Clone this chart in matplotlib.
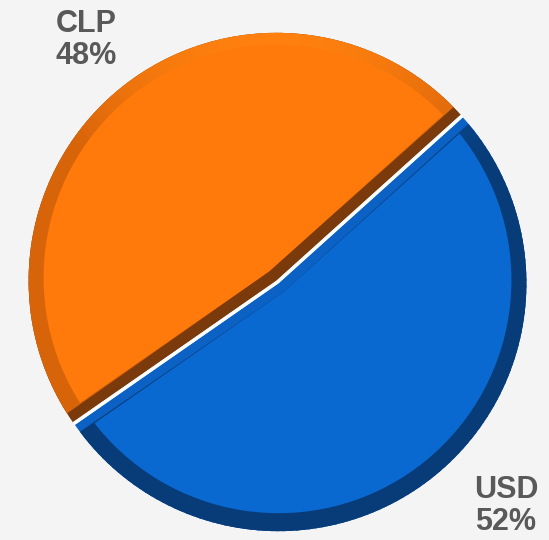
import numpy as np
import matplotlib.pyplot as plt
from matplotlib.patches import Wedge, Circle

# data
labels = ['USD', 'CLP']
values = [52, 48]
face_colors = ['#0a69d0', '#ff7a0a']
rim_dark = ['#083c78', '#d8640a']
rim_light = ['#0a55a8', '#ff800e']
edge_colors = ['#0b61c4', '#7a3a0b']

W, H = 549, 540
cx, cy = 277.5, 540 - 282   # pie centre in pixel coords (y up)
R = 248
rim = 15
start = 42.0   # angle of the split line, degrees

fig = plt.figure(figsize=(W / 100, H / 100), dpi=100)
fig.patch.set_facecolor('#f4f4f4')
ax = fig.add_axes([0, 0, 1, 1])
ax.set_xlim(0, W)
ax.set_ylim(0, H)
ax.set_aspect('equal')
ax.axis('off')


def unit(a):
    return np.array([np.cos(np.radians(a)), np.sin(np.radians(a))])


total = sum(values)
spans = [v / total * 360 for v in values]
# USD runs clockwise from the split line, CLP counter-clockwise
ranges = [(start - spans[0], start), (start, start + spans[1])]
edge_w = [10, 12]

for i in range(len(values)):
    t1, t2 = ranges[i]
    half = (t2 - t1) / 2
    bis = unit((t1 + t2) / 2)
    c = np.array([cx, cy]) + bis * 1.5
    outer = Circle(c, R, facecolor='none', edgecolor='none')
    ax.add_patch(outer)
    # base wedge = bevel along split line
    ax.add_patch(Wedge(c, R, t1, t2, facecolor=edge_colors[i], edgecolor='none'))
    # rim, shaded darker toward the bottom
    apex = c + bis * edge_w[i] / np.sin(np.radians(half))
    angs = np.linspace(t1, t2, 120)
    for a0, a1 in zip(angs[:-1], angs[1:]):
        s = np.sin(np.radians((a0 + a1) / 2))
        k = np.clip((s - 0.55) / 0.45, 0, 1)
        col = (1 - k) * np.array(plt.matplotlib.colors.to_rgb(rim_dark[i])) + \
            k * np.array(plt.matplotlib.colors.to_rgb(rim_light[i]))
        p = Wedge(apex, R * 1.2, a0 - 0.3, a1 + 0.3, facecolor=col, edgecolor='none')
        ax.add_patch(p)
        p.set_clip_path(outer)
    # front face
    fc = c + np.array([0, 3])
    inner = Circle(fc, R - rim, facecolor='none', edgecolor='none')
    ax.add_patch(inner)
    face = Wedge(apex, R * 1.2, t1, t2, facecolor=face_colors[i], edgecolor='none')
    ax.add_patch(face)
    face.set_clip_path(inner)

# white split line
p_top = np.array([cx, cy]) + unit(start) * R
p_bot = np.array([cx, cy]) + unit(start + spans[1]) * R
ax.plot([p_top[0], cx, p_bot[0]], [p_top[1], cy, p_bot[1]],
        color='white', lw=2.5, solid_capstyle='butt', solid_joinstyle='round')

txt = dict(ha='center', va='center', fontsize=22, fontweight='bold',
           color='#595959', family='Liberation Sans', linespacing=1.05)
ax.text(86, 540 - 40, labels[1] + '\n' + f'{values[1]}%', **txt)
ax.text(506, 540 - 506, labels[0] + '\n' + f'{values[0]}%', **txt)

fig.savefig('out.png', dpi=100, facecolor=fig.get_facecolor())
